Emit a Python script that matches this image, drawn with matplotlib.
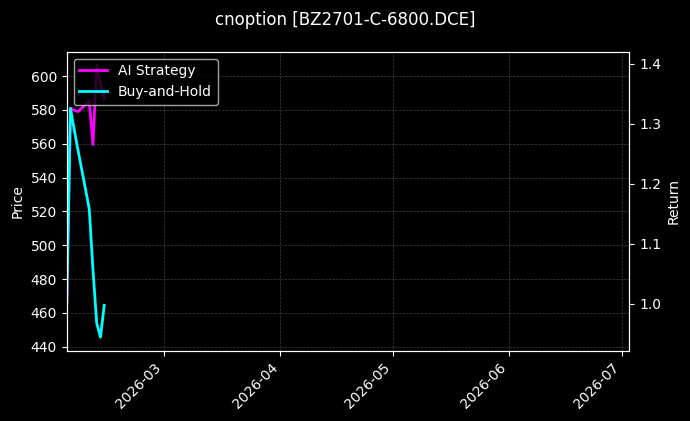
import matplotlib
matplotlib.use("Agg")
import matplotlib.pyplot as plt
import matplotlib.dates as mdates
import pandas as pd

plt.style.use("dark_background")

dates = pd.to_datetime(["2026-02-03", "2026-02-04", "2026-02-05", "2026-02-06",
                        "2026-02-09", "2026-02-10", "2026-02-11", "2026-02-12",
                        "2026-02-13"])
ai_strategy = [1.000, 1.3255, 1.322, 1.320, 1.337, 1.265, 1.397, 1.367, 1.341]
buy_hold = [1.000, 1.3255, 1.290, 1.256, 1.158, 1.056, 0.967, 0.944, 0.997]

title = "cnoption [BZ2701-C-6800.DCE]"
x_range = pd.to_datetime(["2026-02-03", "2026-07-03"])
price_range = (437.6, 614.4)

fig = plt.figure(figsize=(6.9, 4.21), dpi=100)
ax1 = fig.add_axes([0.0967, 0.167, 0.8153, 0.710])
ax2 = ax1.twinx()

ax1.set_ylim(*price_range)
ax1.set_ylabel("Price")
ax1.grid(True, linestyle="--", linewidth=0.5, color="gray", alpha=0.5)

ax2.plot(dates, ai_strategy, color="#ff00ff", linewidth=2, label="AI Strategy")
ax2.plot(dates, buy_hold, color="#00ffff", linewidth=2, label="Buy-and-Hold")
ax2.set_ylabel("Return")

ax1.set_xlim(x_range[0], x_range[1])
ax1.xaxis.set_major_locator(mdates.MonthLocator())
ax1.xaxis.set_major_formatter(mdates.DateFormatter("%Y-%m"))
plt.setp(ax1.get_xticklabels(), rotation=45, ha="right")

ax2.legend(loc="upper left")
fig.suptitle(title, fontsize=12, y=0.975)

fig.savefig("out.png", dpi=100)
